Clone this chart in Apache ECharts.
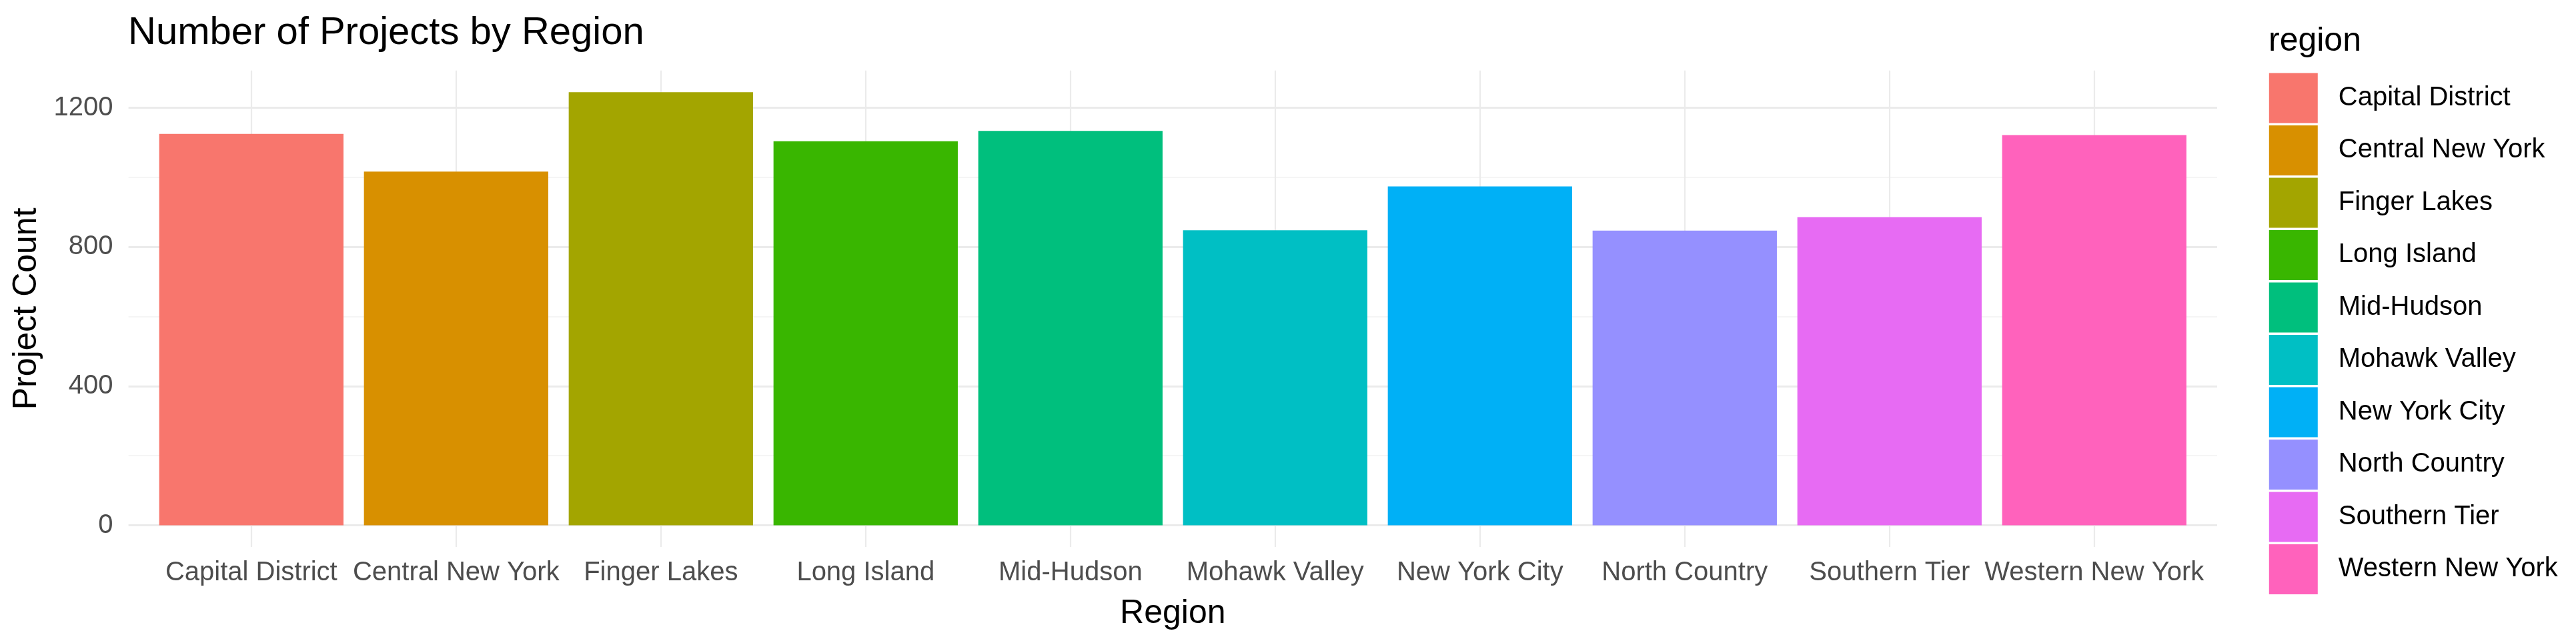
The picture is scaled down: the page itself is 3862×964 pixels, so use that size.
<!DOCTYPE html>
<html>
<head>
<meta charset="utf-8">
<script src="https://cdn.jsdelivr.net/npm/echarts@6/dist/echarts.min.js"></script>
<style>
  html, body { margin: 0; padding: 0; background: #ffffff; }
  #chart { width: 3862px; height: 964px; }
</style>
</head>
<body>
<div id="chart"></div>
<script>
// ---- data ----
const categories = ['Capital District', 'Central New York', 'Finger Lakes', 'Long Island', 'Mid-Hudson',
  'Mohawk Valley', 'New York City', 'North Country', 'Southern Tier', 'Western New York'];
const projectCounts = [1125, 1017, 1245, 1104, 1134, 848, 974, 847, 886, 1122];
const colors = ['#F8766D', '#D89000', '#A3A500', '#39B600', '#00BF7D', '#00BFC4', '#00B0F6', '#9590FF', '#E76BF3', '#FF62BC'];
const majorTicks = [0, 400, 800, 1200];
const minorTicks = [200, 600, 1000];
const titleText = 'Number of Projects by Region';
const xTitle = 'Region';
const yTitle = 'Project Count';
const legendTitle = 'region';

// ---- layout ----
const FONT = '"Liberation Sans", Arial, sans-serif';
const dataMax = Math.max(...projectCounts);
const yMin = -dataMax * 0.05;
const yMax = dataMax * 1.05;
const panel = { left: 192.6, right: 3862 - 3324, top: 105.8, bottom: 964 - 820 };
const bars = { left: 223.3, right: 3862 - 3293.3, top: 105.8, bottom: 964 - 820 };
const positions = categories.map((c, i) => i);

const chart = echarts.init(document.getElementById('chart'), null, { renderer: 'canvas' });

const series = categories.map((name, i) => ({
  type: 'bar',
  name: name,
  xAxisIndex: 1,
  yAxisIndex: 2,
  barWidth: '90%',
  barGap: '-100%',
  itemStyle: { color: colors[i] },
  emphasis: { disabled: true },
  data: projectCounts.map((v, j) => (j === i ? v : null))
}));

chart.setOption({
  animation: false,
  backgroundColor: '#ffffff',
  textStyle: { fontFamily: FONT },
  title: [
    { text: titleText, left: 192, top: 21, padding: 0,
      textStyle: { fontFamily: FONT, fontSize: 58, fontWeight: 'normal', color: '#000000' } },
    { text: legendTitle, left: 3401, top: 37, padding: 0,
      textStyle: { fontFamily: FONT, fontSize: 50, fontWeight: 'normal', color: '#000000' } }
  ],
  legend: {
    data: categories,
    orient: 'vertical',
    left: 3401.8,
    top: 109.4,
    padding: 0,
    itemWidth: 73,
    itemHeight: 75,
    itemGap: 3.5,
    icon: 'rect',
    selectedMode: false,
    textStyle: { fontFamily: FONT, fontSize: 40, color: '#000000', padding: [0, 0, 0, 26] }
  },
  grid: [
    Object.assign({ containLabel: false, outerBoundsMode: 'none' }, panel),
    Object.assign({ containLabel: false, outerBoundsMode: 'none' }, bars)
  ],
  xAxis: [
    {
      type: 'value', gridIndex: 0, min: -0.6, max: 9.6,
      axisLine: { show: false }, axisLabel: { show: false },
      axisTick: { show: false, customValues: positions },
      splitLine: { show: true, lineStyle: { color: '#ebebeb', width: 2.2 } },
      name: xTitle, nameLocation: 'middle', nameGap: 75,
      nameTextStyle: { fontFamily: FONT, fontSize: 50, color: '#000000', verticalAlign: 'top' }
    },
    {
      type: 'category', gridIndex: 1, data: categories, boundaryGap: true,
      axisLine: { show: false }, axisTick: { show: false }, splitLine: { show: false },
      axisLabel: { interval: 0, margin: 19, fontFamily: FONT, fontSize: 40, color: '#4D4D4D' }
    }
  ],
  yAxis: [
    {
      type: 'value', gridIndex: 0, min: yMin, max: yMax,
      axisLine: { show: false },
      axisTick: { show: false, customValues: majorTicks },
      axisLabel: { customValues: majorTicks, margin: 23, fontFamily: FONT, fontSize: 40, color: '#4D4D4D',
        formatter: v => String(v) },
      splitLine: { show: true, lineStyle: { color: '#ebebeb', width: 2.8 } },
      name: yTitle, nameLocation: 'middle', nameGap: 127, nameRotate: 90,
      nameTextStyle: { fontFamily: FONT, fontSize: 50, color: '#000000' }
    },
    {
      type: 'value', gridIndex: 0, min: yMin, max: yMax, position: 'left',
      axisLine: { show: false }, axisLabel: { show: false },
      axisTick: { show: false, customValues: minorTicks },
      splitLine: { show: true, lineStyle: { color: '#f2f2f2', width: 1.6 } }
    },
    {
      type: 'value', gridIndex: 1, min: yMin, max: yMax,
      axisLine: { show: false }, axisLabel: { show: false }, axisTick: { show: false },
      splitLine: { show: false }
    }
  ],
  series: series
});
</script>
</body>
</html>
